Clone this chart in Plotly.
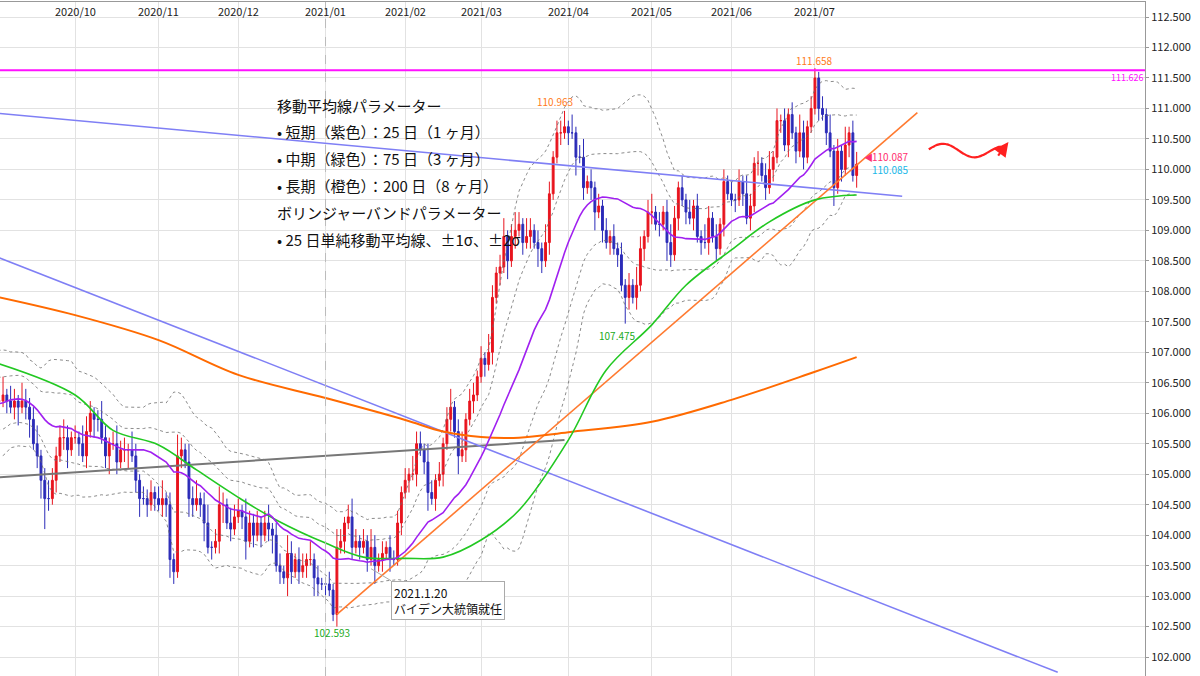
import pandas as pd
import numpy as np
import plotly.graph_objects as go

FONT = "Noto Sans CJK JP"
# ---- data ----
pre_close = [105.9,105.7,106.0,105.6,105.5,106.0,105.9,106.4,106.6,106.9,106.7,106.9,106.9,106.6,106.1,105.9,105.8,105.4,105.9,105.8,105.8,106.6,106.4,105.9]
close_sep = [106.0,106.2,106.2,106.3,106.2,106.1,106.2,106.1,106.2,106.1,105.9,105.5,105.3,104.9,104.6,104.6,104.9,105.3,105.6,105.6,105.4,105.6]
close_oct = [105.6,105.5,105.3,105.7,106.0,105.9,105.9,105.6,105.3,105.5,105.5,105.2,105.4,105.4,105.4,105.3,104.9,104.6,104.6,104.5,104.7,104.6]
close_nov = [104.5,104.6,104.5,103.6,103.4,105.3,105.4,105.2,104.6,104.5,104.6,104.5,104.2,103.8,103.8,103.9,104.5,104.5,104.2,104.1,104.3]
close_dec = [104.4,104.3,103.9,104.2,104.0,104.2,104.0,104.2,104.1,104.0,103.5,103.4,103.3,103.7,103.4,103.6,103.4,103.5,103.6,103.6,103.3,103.2,103.2]
close_jan = [103.2,103.1,102.7,103.8,103.9,104.2,104.3,103.8,103.9,103.8,103.9,103.6,103.8,103.5,103.6,103.7,103.8,103.6,103.6,104.2,104.7]
close_feb = [104.9,105.0,105.0,105.5,105.4,105.2,104.7,104.6,104.9,105.0,105.5,105.9,106.1,105.7,105.3,105.4,105.9,106.2,106.3,106.6]
close_mar = [106.9,106.8,107.0,107.9,108.3,108.4,108.9,108.5,108.9,109.0,109.1,108.8,108.9,109.0,108.8,108.7,108.5,108.8,109.6,110.2,110.6,110.6,110.7]
close_apr = [110.6,110.6,110.2,110.2,109.7,109.8,109.7,109.3,109.4,109.0,108.8,108.9,108.7,108.6,108.1,107.9,108.1,107.9,108.1,108.7,108.9,109.3]
close_may = [109.3,109.1,109.1,109.3,108.8,108.6,109.2,109.7,109.5,109.3,109.2,109.4,108.9,108.8,108.8,109.2,108.9,108.7,109.1,109.8,109.6]
close_jun = [109.5,109.5,109.8,109.6,109.2,109.4,110.1,110.1,109.9,109.7,110.0,110.2,110.8,110.8,110.4,110.9,110.6,110.3,110.6,110.2,110.7,111.0]
close_jul = [111.5,111.0,110.9,110.6,110.3,109.7,110.3,110.0,110.4,110.6,109.9,110.087]

up_wick = [float(v) for v in (
 "0.2 0.3 0.15 0.3 0.1 0.25 0.2 0.1 0.3 0.2 0.15 0.2 0.3 0.1 0.2 0.3 0.2 0.15 0.2 0.3 0.2 0.1 "
 "0.2 0.1 0.3 0.25 0.2 0.1 0.15 0.3 0.2 0.1 0.2 0.3 0.15 0.2 0.1 0.3 0.2 0.1 0.2 0.15 0.2 0.1 "
 "0.2 0.3 0.1 0.2 0.1 0.35 0.2 0.1 0.3 0.2 0.3 0.1 0.2 0.3 0.1 0.2 0.3 0.2 0.1 0.25 0.2 "
 "0.2 0.1 0.3 0.2 0.15 0.2 0.1 0.2 0.3 0.1 0.2 0.2 0.1 0.3 0.2 0.1 0.2 0.2 0.1 0.3 0.1 0.2 0.1 "
 "0.1 0.2 0.1 0.3 0.2 0.1 0.2 0.3 0.2 0.1 0.2 0.1 0.3 0.2 0.1 0.2 0.1 0.2 0.15 0.2 0.1 "
 "0.2 0.1 0.3 0.2 0.2 0.1 0.3 0.2 0.1 0.2 0.1 0.2 0.3 0.1 0.2 0.3 0.1 0.2 0.2 0.1 "
 "0.2 0.1 0.3 0.2 0.1 0.2 0.3 0.1 0.2 0.3 0.2 0.1 0.3 0.2 0.1 0.2 0.1 0.3 0.2 0.1 0.2 0.2 0.26 "
 "0.1 0.3 0.1 0.2 0.3 0.1 0.2 0.1 0.2 0.1 0.2 0.1 0.2 0.1 0.2 0.1 0.2 0.1 0.3 0.2 0.1 0.2 "
 "0.3 0.1 0.2 0.1 0.2 0.3 0.2 0.1 0.2 0.1 0.2 0.1 0.2 0.1 0.3 0.2 0.1 0.2 0.1 0.2 0.1 "
 "0.2 0.1 0.2 0.1 0.3 0.2 0.1 0.2 0.1 0.2 0.3 0.1 0.2 0.1 0.2 0.1 0.2 0.1 0.3 0.2 0.1 0.2 "
 "0.16 0.1 0.2 0.1 0.3 0.1 0.2 0.1 0.3 0.1 0.2 0.2").split()]
down_wick = [float(v) for v in (
 "0.1 0.2 0.3 0.1 0.2 0.1 0.2 0.3 0.1 0.2 0.3 0.1 0.2 0.3 0.5 0.2 0.1 0.2 0.1 0.2 0.3 0.1 "
 "0.1 0.2 0.1 0.2 0.1 0.3 0.2 0.1 0.2 0.3 0.1 0.2 0.1 0.2 0.3 0.1 0.2 0.3 0.1 0.2 0.1 0.2 "
 "0.1 0.2 0.2 0.3 0.2 0.1 0.2 0.1 0.3 0.2 0.1 0.2 0.3 0.1 0.2 0.1 0.2 0.3 0.1 0.2 0.1 "
 "0.1 0.2 0.3 0.1 0.2 0.1 0.2 0.1 0.2 0.3 0.1 0.2 0.1 0.3 0.2 0.1 0.2 0.1 0.2 0.1 0.3 0.2 0.1 "
 "0.2 0.1 0.11 0.2 0.1 0.2 0.1 0.2 0.1 0.2 0.1 0.2 0.1 0.3 0.1 0.2 0.1 0.2 0.1 0.1 0.2 "
 "0.1 0.2 0.1 0.2 0.1 0.2 0.3 0.1 0.2 0.1 0.2 0.1 0.2 0.1 0.3 0.1 0.2 0.1 0.2 0.1 "
 "0.1 0.2 0.1 0.2 0.1 0.2 0.1 0.3 0.1 0.2 0.1 0.2 0.1 0.2 0.1 0.3 0.2 0.1 0.2 0.1 0.1 0.2 0.1 "
 "0.2 0.1 0.3 0.1 0.2 0.1 0.2 0.3 0.1 0.2 0.1 0.2 0.1 0.2 0.1 0.43 0.2 0.1 0.2 0.1 0.2 0.1 "
 "0.2 0.1 0.2 0.1 0.3 0.2 0.1 0.2 0.1 0.2 0.1 0.2 0.1 0.2 0.1 0.2 0.1 0.2 0.1 0.2 0.1 "
 "0.1 0.2 0.1 0.2 0.1 0.2 0.1 0.2 0.1 0.2 0.1 0.2 0.1 0.2 0.1 0.2 0.1 0.2 0.1 0.2 0.1 0.1 "
 "0.1 0.2 0.1 0.2 0.1 0.3 0.1 0.2 0.1 0.2 0.1 0.2").split()]

# 75-day and 200-day moving averages
ma_dates = ["2020-09-01","2020-10-01","2020-10-15","2020-11-02","2020-11-16","2020-12-01","2020-12-15","2021-01-01",
            "2021-01-15","2021-02-01","2021-02-15","2021-03-01","2021-03-15","2021-04-01","2021-04-15","2021-05-03",
            "2021-05-14","2021-06-01","2021-06-15","2021-07-01","2021-07-16"]
ma75 = [106.85,106.30,105.72,105.48,105.07,104.62,104.25,103.87,103.64,103.62,103.64,103.92,104.41,105.56,106.71,
        107.45,108.10,108.68,109.14,109.50,109.58]
ma200_dates = ["2020-09-01","2020-10-01","2020-11-02","2020-12-01","2021-01-01","2021-02-01","2021-02-15","2021-03-01",
               "2021-03-15","2021-04-01","2021-05-03","2021-06-01","2021-07-01","2021-07-16"]
ma200 = [107.93,107.61,107.20,106.63,106.25,105.89,105.70,105.61,105.60,105.69,105.86,106.22,106.68,106.92]

# trend lines: (start date, start price, end date, end price)
trend_blue_up = ("2020-09-01", 110.93, "2021-08-03", 109.56)
trend_blue_dn = ("2020-09-01", 108.60, "2021-09-29", 101.75)
trend_grey = ("2020-09-01", 104.94, "2021-03-31", 105.56)
trend_orange = ("2021-01-06", 102.70, "2021-08-08", 110.93)
resist_level = 111.626
month_labels = ["2020/10","2020/11","2020/12","2021/01","2021/02","2021/03","2021/04","2021/05","2021/06","2021/07"]

# ---- build ----
closes = close_sep+close_oct+close_nov+close_dec+close_jan+close_feb+close_mar+close_apr+close_may+close_jun+close_jul
allbd = pd.bdate_range("2020-09-01", "2021-12-31")
def xi(d):
    return int(allbd.searchsorted(pd.Timestamp(d)))
x = np.arange(len(closes))
opens = [pre_close[-1]] + closes[:-1]
highs = [max(o, c) + u for o, c, u in zip(opens, closes, up_wick)]
lows = [min(o, c) - d for o, c, d in zip(opens, closes, down_wick)]

s = pd.Series(pre_close + closes)
m25 = s.rolling(25).mean()
sd = s.rolling(25).std(ddof=0)
n0 = len(pre_close)
m25 = m25.iloc[n0:].values; sd = sd.iloc[n0:].values

fig = go.Figure()
bbc = "rgba(110,110,110,0.8)"
for k in (2, 1, -1, -2):
    fig.add_trace(go.Scatter(x=x, y=m25 + k*sd, mode="lines", line=dict(color=bbc, width=1, dash="dot"), hoverinfo="skip"))

def tl(t, color, w=1.6):
    fig.add_trace(go.Scatter(x=[xi(t[0]), xi(t[2])], y=[t[1], t[3]], mode="lines", line=dict(color=color, width=w)))
tl(trend_grey, "#777777", 2)
tl(trend_blue_up, "#7f7ff5")
tl(trend_blue_dn, "#7f7ff5")
tl(trend_orange, "#ff7a30")

fig.add_trace(go.Scatter(x=[xi(d) for d in ma200_dates], y=ma200, mode="lines", line=dict(color="#ff6a00", width=2, shape="spline")))
fig.add_trace(go.Scatter(x=[xi(d) for d in ma_dates], y=ma75, mode="lines", line=dict(color="#22c822", width=1.6, shape="spline")))
fig.add_trace(go.Scatter(x=x, y=m25, mode="lines", line=dict(color="#a020f0", width=1.6)))

fig.add_trace(go.Candlestick(x=x, open=opens, high=highs, low=lows, close=closes,
    increasing=dict(line=dict(color="#e8141e", width=1), fillcolor="#e8141e"),
    decreasing=dict(line=dict(color="#2b2bb8", width=1), fillcolor="#2b2bb8"), whiskerwidth=0))

fig.add_shape(type="line", xref="paper", x0=0, x1=1, y0=resist_level, y1=resist_level, line=dict(color="#ff10ff", width=2))
fig.add_shape(type="line", x0=xi("2021-01-01"), x1=xi("2021-01-01"), yref="paper", y0=0, y1=1, line=dict(color="#bbbbbb", width=1, dash="dash"))

month_x = [xi(f"{m[:4]}-{m[5:]}-01") for m in month_labels]

ann = []
for mx, mt in zip(month_x, month_labels):
    ann.append(dict(x=mx, yref="paper", y=1, yanchor="top", text=mt, showarrow=False, yshift=1,
                    font=dict(size=11, color="#222", family=FONT)))
def label(xv, yv, txt, color, ys, size=10, xs=0):
    ann.append(dict(x=xv, y=yv, text=txt, showarrow=False, font=dict(color=color, size=size, family=FONT), yshift=ys, xshift=xs))
hi = np.array(highs); lo = np.array(lows)
i1 = int(np.argmax(hi[:160])); label(i1, hi[i1], "110.963", "#ff7a20", 9, xs=-10)
i2 = int(np.argmax(hi)); label(i2, hi[i2], "111.658", "#ff7a20", 8)
i3 = 150 + int(np.argmin(lo[150:])); label(i3, lo[i3], "107.475", "#22aa22", -12, xs=-8)
i4 = int(np.argmin(lo)); label(i4, 102.593, "102.593", "#22aa22", -12, xs=-5)
ann.append(dict(xref="paper", x=1, xanchor="right", y=resist_level, text=f"{resist_level:.3f}", showarrow=False,
                font=dict(color="#ff10ff", size=9, family=FONT), yshift=-7))
last = len(closes) - 1
label(last + 3, closes[-1], "◀", "#ff3070", 7, size=9, xs=0)
label(last + 9, closes[-1], "110.087", "#ff3070", 8, size=10)
label(last + 9, closes[-1], "110.085", "#20b8e8", -5, size=10)

lines = ["移動平均線パラメーター", "• 短期（紫色）：25 日（1 ヶ月）", "• 中期（緑色）：75 日（3 ヶ月）",
         "• 長期（橙色）：200 日（8 ヶ月）", "ボリンジャーバンドパラメーター", "• 25 日単純移動平均線、±1σ、±2σ"]
for j, t in enumerate(lines):
    ypx = 105 + j*26.9
    ann.append(dict(xref="paper", yref="paper", x=275/1145, y=(676-ypx)/674, xanchor="left", yanchor="middle",
                    text=t, showarrow=False, font=dict(size=15, color="#111", family=FONT)))
j20 = xi("2021-01-20")
ann.append(dict(x=j20 - 1, y=103.45, ax=20, ay=12, text="2021.1.20<br>バイデン大統領就任",
                showarrow=True, arrowhead=0, arrowcolor="#aaaaaa", arrowwidth=1, xanchor="left", yanchor="top",
                align="left", bgcolor="white", bordercolor="#aaaaaa", borderwidth=1, borderpad=2,
                font=dict(size=12, color="#111", family=FONT)))
fig.update_layout(annotations=ann)

# red wavy arrow (forecast hint)
wx = np.linspace(0, 1, 40)
x0w = last + 19; x1w = last + 38
fig.add_trace(go.Scatter(x=x0w + (x1w - x0w)*wx, y=110.33 + 0.1*np.sin(wx*2*np.pi*1.2) - 0.05*wx,
                         mode="lines", line=dict(color="#ff2020", width=2.2, shape="spline")))
fig.add_annotation(x=x1w + 2, y=110.45, ax=x1w - 1, ay=110.2, axref="x", ayref="y", showarrow=True,
                   arrowhead=2, arrowsize=1.3, arrowwidth=2.2, arrowcolor="#ff2020", text="")

fig.update_layout(width=1200, height=676, margin=dict(l=0, r=55, t=2, b=0, autoexpand=False), showlegend=False,
                  plot_bgcolor="white", paper_bgcolor="white", font=dict(family=FONT),
                  xaxis=dict(range=[2.2, 304], side="top", tickvals=month_x, showticklabels=False, showgrid=True,
                             gridcolor="#e2e2e2", ticks="", rangeslider=dict(visible=False),
                             showline=True, linecolor="#999", mirror=True, zeroline=False),
                  yaxis=dict(range=[101.69, 112.746], side="right", dtick=0.5, tickformat=".3f", showgrid=True,
                             gridcolor="#e2e2e2", tickfont=dict(size=11, color="#222"), showline=True, linecolor="#999",
                             mirror=True, zeroline=False, ticks="outside", ticklen=3, tickcolor="#999"))
fig.write_html("out.html", config={"displayModeBar": False},
               post_script="document.body.style.margin='0';document.body.style.overflow='hidden';")
